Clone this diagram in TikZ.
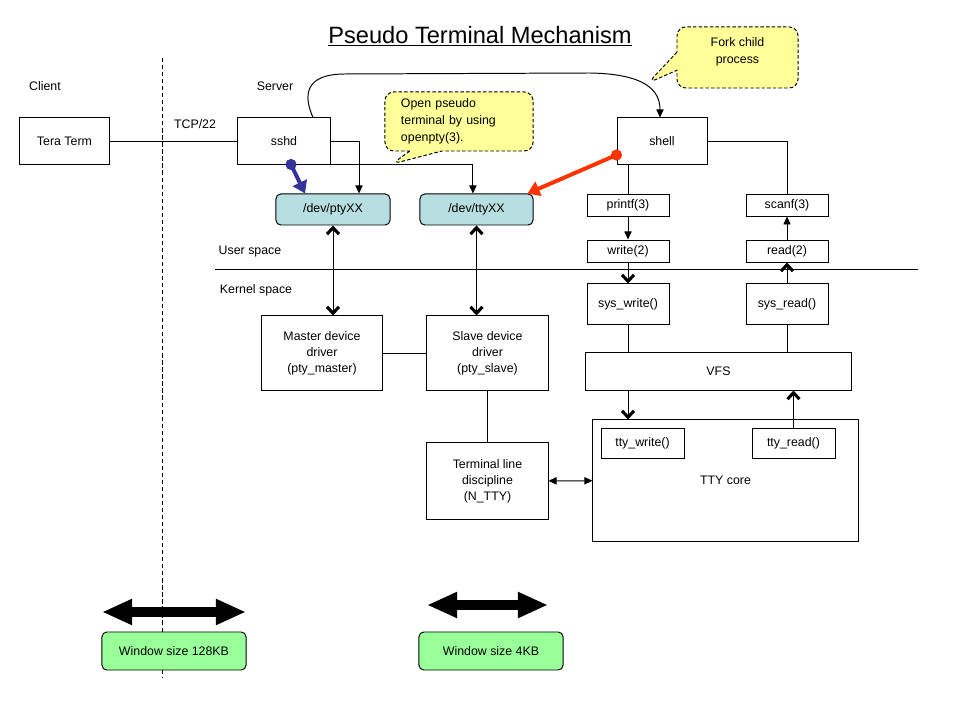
\documentclass[tikz,border=0pt]{standalone}
\usepackage{fontspec}
\setmainfont{Liberation Sans}
\usetikzlibrary{arrows.meta,shapes.callouts}
\definecolor{devblue}{HTML}{B7DEE1}
\definecolor{notefill}{HTML}{FFFF99}
\definecolor{winfill}{HTML}{99FF99}
\definecolor{ptyarrow}{HTML}{333399}
\definecolor{ttyarrow}{HTML}{FF3300}

\begin{document}
\begin{tikzpicture}[
  x=0.025cm, y=-0.025cm,
  every node/.style={inner sep=1pt, font=\fontsize{8.8}{11.4}\selectfont},
  box/.style={draw, line width=0.7pt, align=center, inner sep=0pt},
  dev/.style={box, fill=devblue, rounded corners=0.12cm},
  win/.style={box, fill=winfill, rounded corners=0.12cm},
  % the two yellow speech bubbles
  note/.style={rectangle callout, draw, dash pattern=on 2.5pt off 1.5pt, line width=0.7pt,
    fill=notefill, rounded corners=0.22cm, align=center, inner sep=0pt,
    font=\fontsize{8.8}{12}\selectfont},
  wire/.style={draw, line width=0.7pt},
  arrow/.style={wire, -{Triangle[length=0.2cm, width=0.18cm]}},
  darrow/.style={wire, {Triangle[length=0.2cm, width=0.18cm]}-{Triangle[length=0.2cm, width=0.18cm]}},
  varrow/.style={wire, -{Straight Barb[length=0.16cm, width=0.3cm, line width=2.2pt]}},
  dvarrow/.style={wire, {Straight Barb[length=0.16cm, width=0.3cm, line width=2.2pt]}-{Straight Barb[length=0.16cm, width=0.3cm, line width=2.2pt]}},
  grab/.style={line width=2.8pt, -{Triangle[length=0.3cm, width=0.38cm]}},
  wide/.style={line width=7pt, {Triangle[length=0.75cm, width=0.6cm]}-{Triangle[length=0.75cm, width=0.6cm]}}]

  \useasboundingbox (0,0) rectangle (960,720);

  % client / server border
  \coordinate (netT) at (162,58);
  \coordinate (netB) at (162,678);
  \draw[wire, dash pattern=on 3pt off 2pt] (netT) -- (netB);

  % labels
  \node (title)  at (480,36)  {\fontsize{16.8}{20}\selectfont\underline{Pseudo Terminal Mechanism}};
  \node (client) at (45,86)   {Client};
  \node (server) at (275,86)  {Server};
  \node (tcp)    at (195,124) {TCP/22};
  \node (user)   at (250,252) {User space};
  \node (kernel) at (256,290) {Kernel space};

  % processes
  \node[box, minimum width=2.225cm, minimum height=1.15cm] (tera)  at (64.5,141) {Tera Term};
  \node[box, minimum width=2.3cm,   minimum height=1.15cm] (sshd)  at (284,141)  {sshd};
  \node[box, minimum width=2.25cm,  minimum height=1.15cm] (shell) at (662,141)  {shell};

  % device files
  \node[dev, minimum width=2.85cm,  minimum height=0.775cm] (pty) at (333,209.5)   {/dev/ptyXX};
  \node[dev, minimum width=2.825cm, minimum height=0.775cm] (tty) at (476.5,209.5) {/dev/ttyXX};

  % calls
  \node[box, minimum width=2.05cm, minimum height=0.55cm] (printf)   at (628,205) {printf(3)};
  \node[box, minimum width=2.05cm, minimum height=0.55cm] (write)    at (628,251) {write(2)};
  \node[box, minimum width=2.05cm, minimum height=0.55cm] (scanf)    at (787,205) {scanf(3)};
  \node[box, minimum width=2.05cm, minimum height=0.55cm] (read)     at (787,251) {read(2)};
  \node[box, minimum width=2.05cm, minimum height=1cm]    (syswrite) at (628,304) {sys\_write()};
  \node[box, minimum width=2.05cm, minimum height=1cm]    (sysread)  at (787,304) {sys\_read()};

  % kernel
  \node[box, minimum width=3cm,     minimum height=1.85cm] (master) at (322,353)   {Master device\\driver\\(pty\_master)};
  \node[box, minimum width=3.025cm, minimum height=1.85cm] (slave)  at (487.5,353) {Slave device\\driver\\(pty\_slave)};
  \node[box, minimum width=3.025cm, minimum height=1.9cm]  (ldisc)  at (487.5,481) {Terminal line\\discipline\\(N\_TTY)};
  \node[box, minimum width=6.625cm, minimum height=0.95cm]  (vfs)   at (718.5,371) {VFS};
  \node[box, minimum width=6.625cm, minimum height=3.025cm] (core)  at (725.5,480.5) {TTY core};
  \node[box, minimum width=2.075cm, minimum height=0.75cm] (ttywrite) at (642.5,443) {tty\_write()};
  \node[box, minimum width=2.075cm, minimum height=0.75cm] (ttyread)  at (793.5,443) {tty\_read()};

  % window sizes
  \node[win, minimum width=3.6cm, minimum height=0.95cm] (win128) at (174,651) {Window size 128KB};
  \node[win, minimum width=3.6cm, minimum height=0.95cm] (win4)   at (491,651) {Window size 4KB};
  \coordinate (w128L) at (102,612);
  \coordinate (w128R) at (246,612);
  \coordinate (w4L)   at (427,605);
  \coordinate (w4R)   at (548,605);
  \draw[wide] (w128L) -- (w128R);
  \draw[wide] (w4L) -- (w4R);

  % notes
  \coordinate (opentip) at (392,164);
  \coordinate (forktip) at (648,83);
  \node[note, text width=2.9cm, align=left, minimum width=3.7cm, minimum height=1.475cm,
    callout absolute pointer={(opentip)}, callout pointer width=0.8cm] (opennote) at (459,121.5)
    {Open pseudo\\terminal by using\\openpty(3).};
  \node[note, minimum width=3.025cm, minimum height=1.525cm, text depth=0.33cm,
    callout absolute pointer={(forktip)}, callout pointer width=0.45cm] (forknote) at (737.5,57.5)
    {Fork child\\process};

  % connections
  \draw[wire]  (tera) -- (sshd);
  \draw[arrow] (sshd.east) -| ([xshift=0.65cm]pty.north);
  \draw[arrow] (sshd.south east) -| ([xshift=-0.09cm]tty.north);
  \draw[arrow] ([xshift=0.725cm]sshd.north) .. controls (303,95) and (305,74) .. (345,74)
    -- (590,73) .. controls (645,74) and (660,90) .. ([xshift=-0.05cm]shell.north);
  \fill[ptyarrow] ([xshift=0.175cm]sshd.south) circle (0.14cm);
  \draw[grab, ptyarrow] ([xshift=0.175cm]sshd.south) -- ([xshift=-0.7cm]pty.north);
  \fill[ttyarrow] ([yshift=-0.35cm]shell.west) circle (0.14cm);
  \draw[grab, ttyarrow] ([yshift=-0.35cm]shell.west) -- ([xshift=-0.15cm]tty.north east);

  \draw[wire]   (shell.south -| printf.north) -- (printf.north);
  \draw[wire]   (shell.east) -| (scanf.north);
  \draw[arrow]  (printf) -- (write);
  \draw[varrow] (write) -- (syswrite);
  \draw[wire]   (syswrite) -- (syswrite.south |- vfs.north);
  \draw[varrow] (vfs.south -| syswrite.south) -- (syswrite.south |- core.north);
  \draw[arrow]  (read) -- (scanf);
  \draw[varrow] (sysread) -- (read);
  \draw[wire]   (sysread) -- (sysread.south |- vfs.north);
  \draw[varrow] (ttyread) -- (ttyread.north |- vfs.south);

  \draw[dvarrow] (pty) -- (pty.south |- master.north);
  \draw[dvarrow] (tty) -- (tty.south |- slave.north);
  \draw[wire]    (master) -- (slave);
  \draw[wire]    (slave) -- (ldisc);
  \draw[darrow]  (ldisc) -- (core);

  % user / kernel border
  \coordinate (spaceL) at (215,269);
  \coordinate (spaceR) at (918,269);
  \draw[wire] (spaceL) -- (spaceR);
\end{tikzpicture}
\end{document}
